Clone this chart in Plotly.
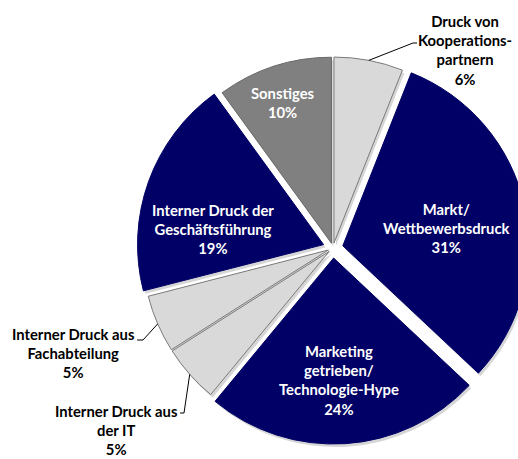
import math
import plotly.graph_objects as go

# Slices, clockwise from 12 o'clock
labels = [
    "Druck von<br>Kooperations-<br>partnern",
    "Markt/<br>Wettbewerbsdruck",
    "Marketing<br>getrieben/<br>Technologie-Hype",
    "Interner Druck aus<br>der IT",
    "Interner Druck aus<br>Fachabteilung",
    "Interner Druck der<br>Geschäftsführung",
    "Sonstiges",
]
values = [6, 31, 24, 5, 5, 19, 10]

NAVY, GREY, LIGHT = "#000066", "#808080", "#D9D9D9"
colors = [LIGHT, NAVY, NAVY, LIGHT, LIGHT, NAVY, GREY]
line_colors = ["#7a7a7a", NAVY, NAVY, "#7a7a7a", "#7a7a7a", NAVY, "#6a6a6a"]
pulls = [0.027, 0.054, 0.054, 0.027, 0.027, 0.054, 0.027]
inside = [False, True, True, False, False, True, True]

# Canvas geometry (px); the plot is a little wider than the view so the
# right edge of the pie gets cropped.
W, H = 540, 459
CX, CY, R = 333, 248, 186
half = R * (1 + max(pulls))
SHADOW_DX, SHADOW_DY = 2, 3

# Label block centres (px) and leader-line elbows for the outside labels
label_xy = [(465, 50), (446, 228), (339, 380), (116, 430), (73, 353), (213, 229), (283, 102)]
leader_pts = {
    0: [(413, 43), (417, 43)],
    3: [(184, 413), (180, 413)],
    4: [(143, 340), (137, 340)],
}

def px(x, y):
    return x / W, 1 - y / H

def pie_domain(cx, cy):
    return dict(
        x=[(cx - half) / W, (cx + half) / W],
        y=[1 - (cy + half) / H, 1 - (cy - half) / H],
    )

common = dict(
    labels=labels, values=values, sort=False, direction="clockwise",
    rotation=0, pull=pulls, textinfo="none", showlegend=False,
)

fig = go.Figure()
# soft drop shadow under the slices
fig.add_trace(go.Pie(
    **common,
    marker=dict(colors=["rgba(0,0,0,0.16)"] * len(values), line=dict(width=0)),
    hoverinfo="skip",
    domain=pie_domain(CX + SHADOW_DX, CY + SHADOW_DY),
))
fig.add_trace(go.Pie(
    **common,
    marker=dict(colors=colors, line=dict(color=line_colors, width=1)),
    hoverinfo="label+percent",
    domain=pie_domain(CX, CY),
))

FONT = "Lato, 'Open Sans', sans-serif"
annotations = []
shapes = []
total = sum(values)
cum = 0
for i, (lab, val) in enumerate(zip(labels, values)):
    x, y = px(*label_xy[i])
    annotations.append(dict(
        x=x, y=y, xref="paper", yref="paper", showarrow=False,
        text=f"<b>{lab}<br>{val}%</b>",
        font=dict(family=FONT, size=14.8, color="white" if inside[i] else "black"),
        xanchor="center", yanchor="middle", align="center",
    ))
    mid = 2 * math.pi * (cum + val / 2) / total
    cum += val
    if i in leader_pts:
        dist = R * (1 + pulls[i])
        ax, ay = CX + dist * math.sin(mid), CY - dist * math.cos(mid)
        pts = [(ax, ay)] + leader_pts[i]
        path = "M " + " L ".join(f"{px(a, b)[0]},{px(a, b)[1]}" for a, b in pts)
        shapes.append(dict(type="path", xref="paper", yref="paper", path=path,
                           line=dict(color="black", width=1)))

fig.update_layout(
    width=W, height=H,
    margin=dict(l=0, r=0, t=0, b=0),
    paper_bgcolor="white", plot_bgcolor="white",
    annotations=annotations, shapes=shapes,
)

fig.write_html(
    "out.html",
    post_script="document.documentElement.style.overflow='hidden';document.body.style.overflow='hidden';",
)
